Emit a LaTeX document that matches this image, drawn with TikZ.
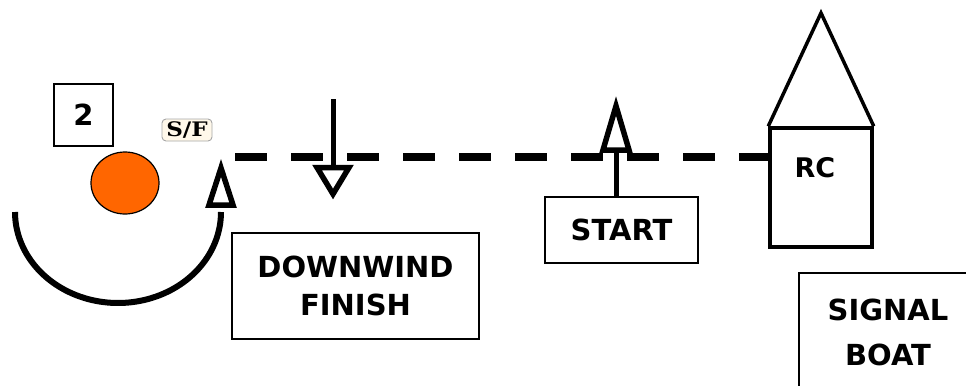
\documentclass[tikz,border=0pt]{standalone}
\usepackage{fontspec}
\setsansfont{DejaVu Sans}
\newfontfamily\serifbold{DejaVu Serif}
\usetikzlibrary{shapes.geometric,calc}
\definecolor{orng}{HTML}{FF6600}
\definecolor{cream}{HTML}{FFF8EA}
\tikzset{
  lbl/.style={font=\sffamily\bfseries\fontsize{29}{38}\selectfont, align=center},
  textbox/.style={draw, line width=1.4pt, rectangle, inner sep=0pt, lbl},
  markline/.style={line width=5.5pt, line join=miter},
  boatline/.style={line width=3.5pt, line join=miter},
}
\begin{document}
\begin{tikzpicture}[x=1pt,y=-1pt]
\useasboundingbox (0,0) rectangle (966,386);

% mark 2 and buoy
\node[textbox, minimum width=59pt, minimum height=62pt] (two) at (83.5,115) {2};
\node[ellipse, draw, line width=1.2pt, fill=orng, minimum width=68pt, minimum height=62pt, inner sep=0pt] (buoy) at (125,183) {};

% S/F label
\node[draw=gray!70, line width=0.9pt, rounded corners=4pt, fill=cream, minimum width=50pt, minimum height=22pt, inner sep=0pt] (sf) at (187,130)
  {\serifbold\bfseries\fontsize{20}{20}\selectfont\scalebox{1.15}[1]{S/F}};

% rounding arc
\draw[line width=6pt] plot[domain=180:360, samples=80, smooth] ({118+103*cos(\x)}, {212-91*sin(\x)});

% left triangle (pin end)
\coordinate (ltip) at (221,168);
\draw[markline] (ltip) -- (209,205) -- (233,205) -- cycle;

% line
\coordinate (lineA) at (235,157);
\coordinate (lineB) at (770,157);
\draw[line width=8pt, dash pattern=on 32pt off 24pt] (lineA) -- (lineB);

% downwind arrow
\coordinate (dwtop) at (333,99);
\coordinate (dwbase) at (333,167);
\draw[line width=5pt] (dwtop) -- (dwbase);
\draw[markline] (317,167.5) -- (349,167.5) -- (333,194) -- cycle;

% start arrow
\node[textbox, minimum width=153pt, minimum height=66pt] (start) at (621.5,230) {START};
\coordinate (stbase) at (616,150);
\draw[line width=5pt] (stbase) -- (stbase |- start.north);
\draw[markline] (603,150) -- (629,150) -- (616,106) -- cycle;

% downwind finish box
\node[textbox, minimum width=247pt, minimum height=106pt] (dwf) at (355.5,286) {DOWNWIND\\FINISH};

% RC boat
\node[draw, boatline, rectangle, minimum width=102pt, minimum height=119pt, inner sep=0pt] (rc) at (821,187.5) {};
\coordinate (mast) at (821,13);
\draw[boatline] (rc.north west) -- (mast) -- (rc.north east);
\node[lbl, font=\sffamily\bfseries\fontsize{27}{30}\selectfont] (rclbl) at (815,168) {RC};

% signal boat box
\coordinate (sbtr) at (966,273);
\coordinate (sbtl) at (799,273);
\coordinate (sbbl) at (799,386);
\draw[line width=1.4pt] (sbtr) -- (sbtl) -- (sbbl);
\node[lbl, font=\sffamily\bfseries\fontsize{29}{45}\selectfont] (sb) at (888,332) {SIGNAL\\BOAT};
\end{tikzpicture}
\end{document}
